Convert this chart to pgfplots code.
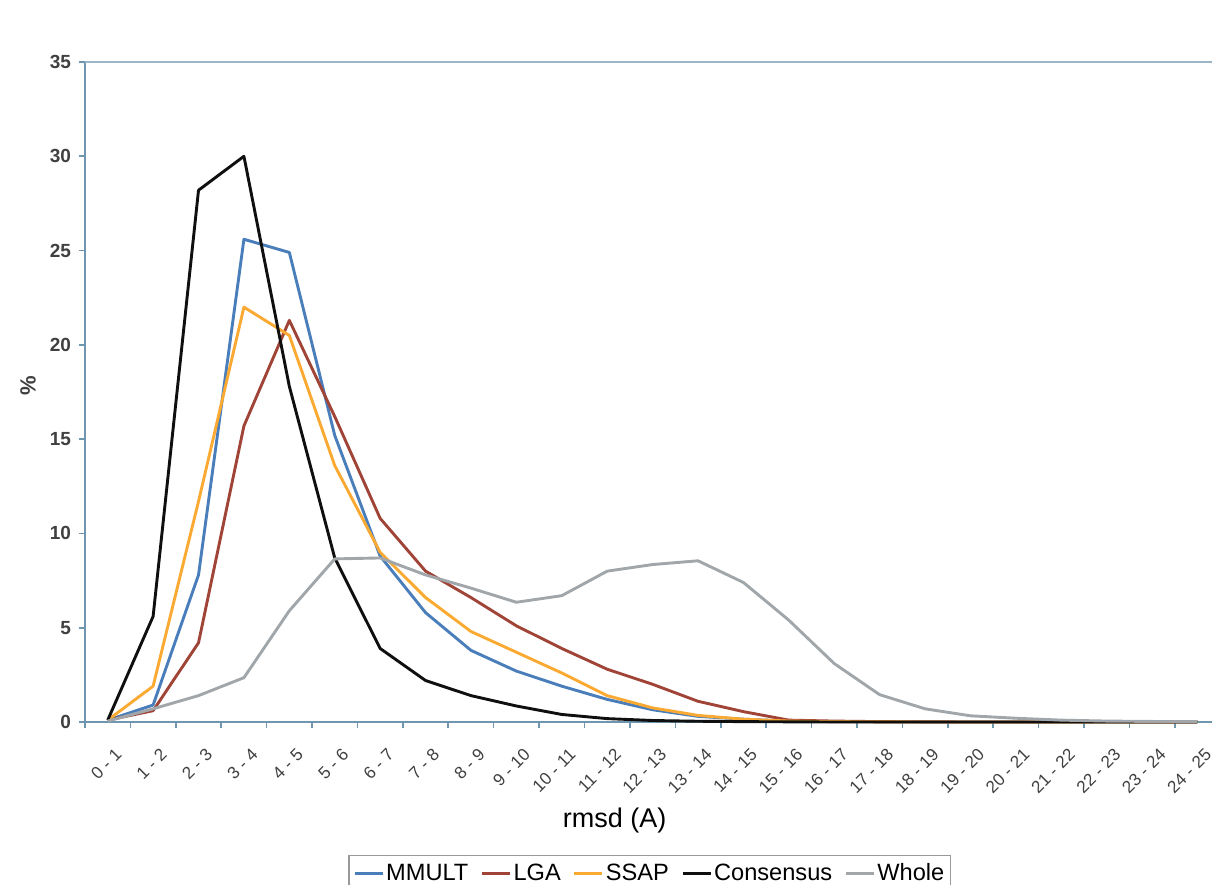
\documentclass[border=0pt]{standalone}
\usepackage{fontspec}
\setmainfont{Liberation Sans}
\usepackage{pgfplots}
\pgfplotsset{compat=1.18}
\definecolor{cMM}{RGB}{74,126,187}
\definecolor{cLGA}{RGB}{160,68,56}
\definecolor{cSSAP}{RGB}{250,170,50}
\definecolor{cCons}{RGB}{15,15,15}
\definecolor{cWhole}{RGB}{160,166,170}
\definecolor{axcol}{RGB}{110,150,175}
\definecolor{txt}{RGB}{64,64,64}
\begin{document}
\begin{tikzpicture}
\begin{axis}[
  scale only axis,
  width=563.5pt, height=330pt,
  xmin=-0.5, xmax=24.32,
  ymin=0, ymax=35,
  ytick={0,5,...,35},
  xtick={0,...,24},
  xticklabels={0 - 1,1 - 2,2 - 3,3 - 4,4 - 5,5 - 6,6 - 7,7 - 8,8 - 9,9 - 10,10 - 11,11 - 12,12 - 13,13 - 14,14 - 15,15 - 16,16 - 17,17 - 18,18 - 19,19 - 20,20 - 21,21 - 22,22 - 23,23 - 24,24 - 25},
  minor xtick={-0.5,0.5,...,23.5},
  major x tick style={draw=none},
  minor tick length=3pt,
  major tick length=3pt,
  tick align=outside,
  axis x line*=bottom,
  axis y line*=left,
  axis line style={draw=axcol, line width=0.8pt, -},
  every tick/.style={draw=axcol, line width=0.8pt},
  /pgf/number format/assume math mode=true,
  yticklabel style={font=\fontsize{9.5}{10}\selectfont\bfseries, text=txt, xshift=-0.5pt},
  xticklabel style={font=\fontsize{8.6}{10}\selectfont, text=txt, rotate=45, anchor=north east, inner sep=1pt, yshift=-8pt, xshift=-3.5pt},
  clip=false,
  legend style={at={(rel axis cs:0.501,-0.2015)}, anchor=north, legend columns=5,
    draw=gray!80, line width=0.6pt, font=\fontsize{11.8}{13}\selectfont,
    inner xsep=2pt, inner ysep=2pt,
    /tikz/every even column/.append style={column sep=5pt},
    nodes={inner xsep=1pt}},
  legend image code/.code={\draw[#1, line width=1.6pt] (0pt,0pt) -- (14pt,0pt);},
  every axis plot/.append style={line width=1.45pt, mark=none, line join=round},
]
\draw[axcol!70, line width=0.8pt] (rel axis cs:0,1) -- (rel axis cs:1,1);
\addplot[cMM] coordinates {(0,0.1) (1,0.9) (2,7.8) (3,25.6) (4,24.9) (5,15.2) (6,8.8) (7,5.8) (8,3.8) (9,2.7) (10,1.9) (11,1.2) (12,0.65) (13,0.3) (14,0.15) (15,0.05) (16,0.02) (17,0.01) (18,0) (19,0) (20,0) (21,0) (22,0) (23,0) (24,0)};
\addlegendentry{MMULT}
\addplot[cLGA] coordinates {(0,0.1) (1,0.6) (2,4.2) (3,15.7) (4,21.3) (5,16.2) (6,10.8) (7,8.0) (8,6.6) (9,5.1) (10,3.9) (11,2.8) (12,2.0) (13,1.1) (14,0.55) (15,0.1) (16,0.05) (17,0.02) (18,0.01) (19,0) (20,0) (21,0) (22,0) (23,0) (24,0)};
\addlegendentry{LGA}
\addplot[cSSAP] coordinates {(0,0.1) (1,1.9) (2,11.7) (3,22.0) (4,20.5) (5,13.6) (6,9.0) (7,6.6) (8,4.8) (9,3.7) (10,2.6) (11,1.4) (12,0.75) (13,0.35) (14,0.15) (15,0.05) (16,0.02) (17,0.01) (18,0) (19,0) (20,0) (21,0) (22,0) (23,0) (24,0)};
\addlegendentry{SSAP}
\addplot[cCons] coordinates {(0,0.1) (1,5.6) (2,28.2) (3,30.0) (4,17.8) (5,8.7) (6,3.9) (7,2.2) (8,1.4) (9,0.85) (10,0.4) (11,0.18) (12,0.08) (13,0.04) (14,0.02) (15,0.01) (16,0) (17,0) (18,0) (19,0) (20,0) (21,0) (22,0) (23,0) (24,0)};
\addlegendentry{Consensus}
\addplot[cWhole] coordinates {(0,0.05) (1,0.7) (2,1.4) (3,2.35) (4,5.9) (5,8.65) (6,8.7) (7,7.8) (8,7.1) (9,6.35) (10,6.7) (11,8.0) (12,8.35) (13,8.55) (14,7.4) (15,5.4) (16,3.1) (17,1.45) (18,0.7) (19,0.33) (20,0.2) (21,0.1) (22,0.05) (23,0.03) (24,0.02)};
\addlegendentry{Whole}
\node[font=\fontsize{13.5}{15}\selectfont, anchor=center] at (rel axis cs:0.47,-0.15) {rmsd (A)};
\node[font=\fontsize{11}{12}\selectfont\bfseries, text=txt, rotate=90, anchor=center] at (rel axis cs:-0.0505,0.51) {\%};
\end{axis}
\pgfresetboundingbox
\path[use as bounding box] ([xshift=-42.5pt,yshift=-81pt]current axis.south west) rectangle ([yshift=31pt]current axis.north east);
\end{tikzpicture}
\end{document}
